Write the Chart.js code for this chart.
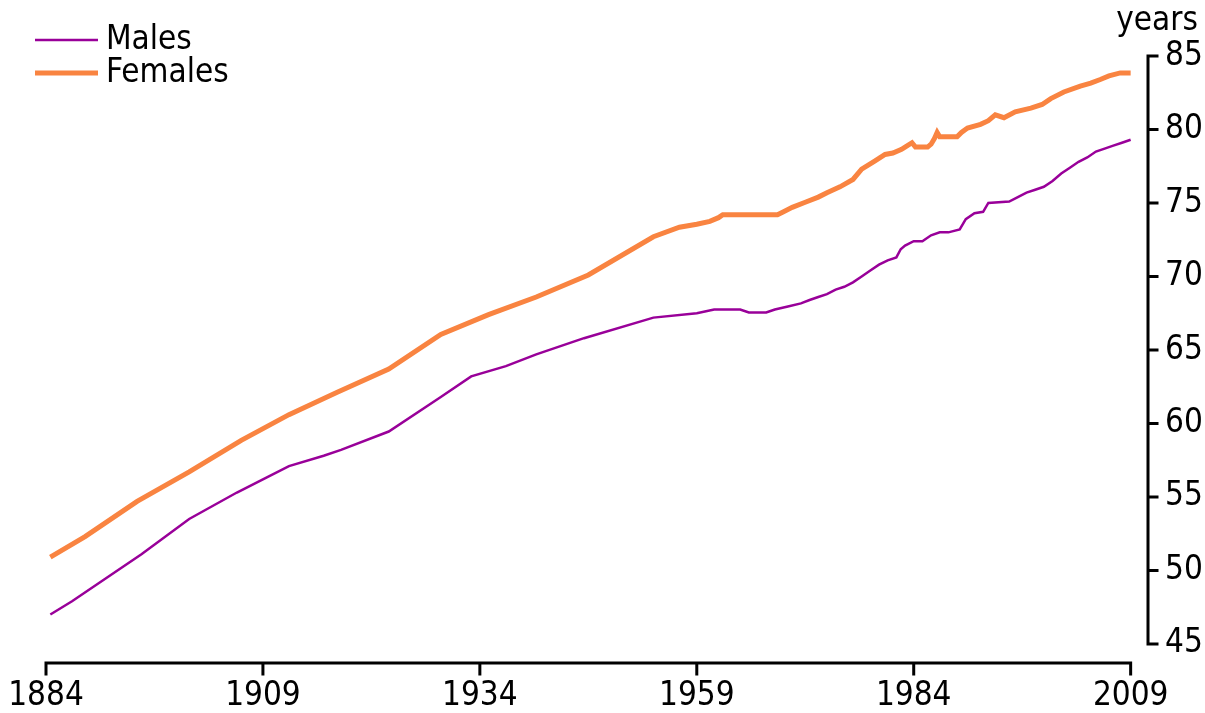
<!DOCTYPE html>
<html>
<head>
<meta charset="utf-8">
<script src="https://cdn.jsdelivr.net/npm/chart.js@4"></script>
<style>
  html, body { margin: 0; padding: 0; background: #fff; }
  #wrap { width: 1205px; height: 713px; }
</style>
</head>
<body>
<div id="wrap"><canvas id="chart"></canvas></div>
<script>
const maleYears = [1884.5, 1887, 1891, 1895, 1900.5, 1906, 1909, 1912, 1916, 1918, 1923.5, 1929.5, 1933, 1937, 1940.5, 1946, 1954, 1959,
    1961, 1964, 1965, 1967, 1968, 1969.5, 1971, 1972, 1973, 1974, 1975, 1976, 1977, 1978, 1979, 1980, 1981, 1982,
    1982.5, 1983, 1984, 1985, 1986, 1987, 1988, 1989.3, 1990, 1991, 1992, 1992.6, 1995, 1996, 1997, 1998, 1999,
    2000, 2001, 2002, 2003, 2004, 2005, 2006, 2007, 2008, 2009]
const maleValues = [47.0, 47.9, 49.5, 51.1, 53.5, 55.3, 56.2, 57.1, 57.8, 58.2, 59.45, 61.8, 63.2, 63.9, 64.7, 65.8, 67.2, 67.5,
    67.75, 67.75, 67.55, 67.55, 67.75, 67.95, 68.17, 68.4, 68.6, 68.8, 69.1, 69.3, 69.6, 70.0, 70.4, 70.8, 71.1, 71.3,
    71.85, 72.1, 72.4, 72.4, 72.8, 73.0, 73.0, 73.2, 73.9, 74.3, 74.4, 75.0, 75.1, 75.4, 75.7, 75.9, 76.1,
    76.5, 77.0, 77.4, 77.8, 78.1, 78.5, 78.7, 78.9, 79.1, 79.3]

const femaleYears = [1884.5, 1888.5, 1894.5, 1900.5, 1906.5, 1912, 1917.5, 1923.5, 1929.5, 1935, 1940.5, 1946.5, 1954, 1957,
    1959, 1960.5, 1961.5, 1962, 1968.3, 1969, 1970, 1971.5, 1973, 1974, 1975.5, 1977, 1978, 1979.5, 1980.7, 1981.6,
    1982.6, 1983, 1983.8, 1984.2, 1985.6, 1986, 1986.4, 1986.7, 1987, 1989, 1989.5, 1990.2, 1991.7, 1992.6, 1993.4,
    1994.4, 1995.7, 1997.5, 1998.8, 1999.8, 2001.3, 2003.2, 2004.4, 2005.5, 2006.5, 2007.8, 2009]
const femaleValues = [50.9, 52.3, 54.7, 56.7, 58.85, 60.6, 62.1, 63.7, 66.05, 67.4, 68.6, 70.1, 72.7, 73.35,
    73.55, 73.75, 74.0, 74.2, 74.2, 74.4, 74.7, 75.05, 75.4, 75.7, 76.1, 76.6, 77.3, 77.85, 78.3, 78.4,
    78.65, 78.8, 79.1, 78.8, 78.8, 79.0, 79.4, 79.8, 79.5, 79.5, 79.8, 80.1, 80.35, 80.6, 81.0,
    80.8, 81.2, 81.45, 81.7, 82.1, 82.55, 82.95, 83.15, 83.4, 83.65, 83.85, 83.85]

const xTicks = [1884, 1909, 1934, 1959, 1984, 2009]
const yTicks = [45, 50, 55, 60, 65, 70, 75, 80, 85]
const yUnit = 'years'

const seriesNames = ['Males', 'Females']
const seriesColors = ['#990099', '#F98441']
const seriesWidths = [2.5, 5]

const FONT = '"Liberation Sans Narrow", "DejaVu Sans Condensed", sans-serif'

const toPoints = (xs, ys) => xs.map((x, i) => ({ x: x, y: ys[i] }))

// axes lines, legend and unit label drawn on top
const extras = {
    id: 'extras',
    afterDraw(chart) {
        const ctx = chart.ctx
        const xs = chart.scales.x
        const ys = chart.scales.y
        const x0 = xs.getPixelForValue(xTicks[0])
        const x1 = xs.getPixelForValue(xTicks[xTicks.length - 1])
        const yb = chart.chartArea.bottom
        const ax = chart.chartArea.right
        const y0 = ys.getPixelForValue(yTicks[0])
        const y1 = ys.getPixelForValue(yTicks[yTicks.length - 1])

        ctx.save()
        ctx.strokeStyle = '#000'
        ctx.lineWidth = 3
        ctx.lineCap = 'square'

        ctx.beginPath()
        ctx.moveTo(x0, yb)
        ctx.lineTo(x1, yb)
        for (const t of xTicks) {
            const px = xs.getPixelForValue(t)
            ctx.moveTo(px, yb)
            ctx.lineTo(px, yb + 11)
        }
        ctx.moveTo(ax, y1)
        ctx.lineTo(ax, y0)
        for (const t of yTicks) {
            const py = ys.getPixelForValue(t)
            ctx.moveTo(ax, py)
            ctx.lineTo(ax + 9, py)
        }
        ctx.stroke()

        ctx.lineCap = 'butt'
        ctx.font = '33px ' + FONT
        ctx.fillStyle = '#000'
        ctx.textBaseline = 'middle'
        const legendY = [40, 73]
        seriesNames.forEach((name, i) => {
            ctx.strokeStyle = seriesColors[i]
            ctx.lineWidth = seriesWidths[i]
            ctx.beginPath()
            ctx.moveTo(35, legendY[i])
            ctx.lineTo(98, legendY[i])
            ctx.stroke()
            ctx.textAlign = 'left'
            ctx.fillText(name, 106, legendY[i])
        })

        ctx.textAlign = 'center'
        ctx.fillText(yUnit, 1157, 21)
        ctx.restore()
    }
}

const ctx = document.getElementById('chart')

new Chart(ctx, {
    type: 'line',
    data: {
        datasets: [{
            label: seriesNames[0],
            data: toPoints(maleYears, maleValues),
            borderColor: seriesColors[0],
            borderWidth: seriesWidths[0]
        },
        {
            label: seriesNames[1],
            data: toPoints(femaleYears, femaleValues),
            borderColor: seriesColors[1],
            borderWidth: seriesWidths[1]
        }]
    },
    options: {
        responsive: true,
        maintainAspectRatio: false,
        animation: false,
        elements: {
            point: { radius: 0 },
            line: { tension: 0 }
        },
        layout: {
            padding: { left: 46, top: 56, right: 0, bottom: 0 }
        },
        plugins: {
            legend: { display: false },
            tooltip: { enabled: false }
        },
        scales: {
            x: {
                type: 'linear',
                min: 1884,
                max: 2011,
                grid: { display: false, drawTicks: false },
                border: { display: false },
                afterBuildTicks: (scale) => { scale.ticks = xTicks.map(v => ({ value: v })) },
                afterFit: (scale) => {
                    scale.height = 50
                    scale.paddingLeft = 0
                    scale.paddingRight = 0
                },
                ticks: {
                    color: '#000',
                    font: { family: FONT, size: 33 },
                    padding: 14,
                    maxRotation: 0,
                    autoSkip: false,
                    callback: (v) => String(v)
                }
            },
            y: {
                position: 'right',
                min: 43.7,
                max: 85,
                grid: { display: false, drawTicks: false },
                border: { display: false },
                afterBuildTicks: (scale) => { scale.ticks = yTicks.map(v => ({ value: v })) },
                afterFit: (scale) => {
                    scale.width = 57
                    scale.paddingTop = 0
                    scale.paddingBottom = 0
                },
                ticks: {
                    color: '#000',
                    font: { family: FONT, size: 33 },
                    padding: 17,
                    autoSkip: false
                }
            }
        }
    },
    plugins: [extras]
});
</script>
</body>
</html>
